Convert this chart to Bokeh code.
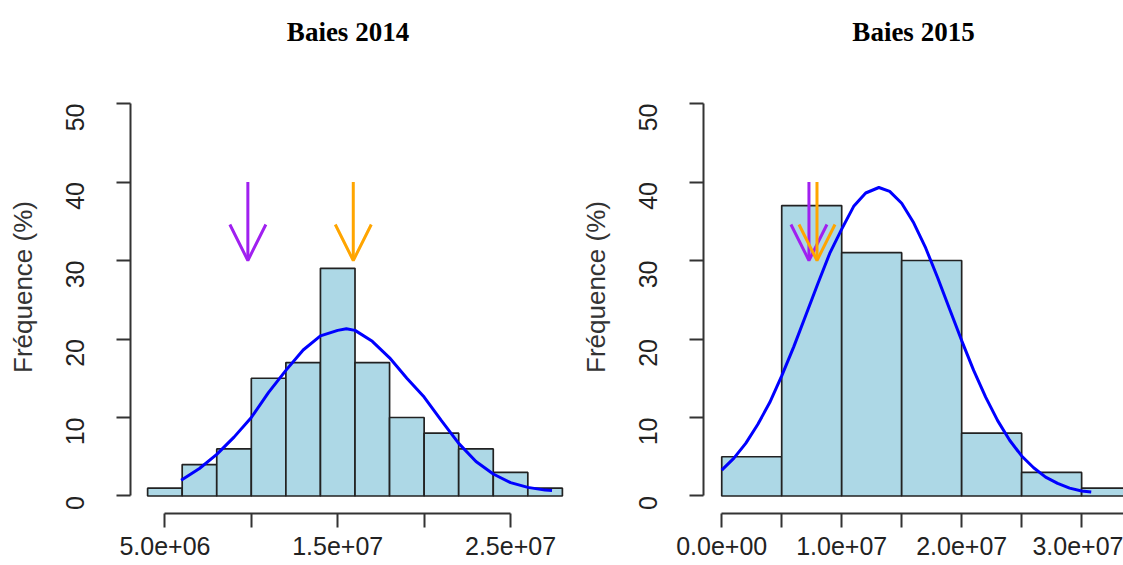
import math
from bokeh.plotting import figure
from bokeh.layouts import row
from bokeh.models import FixedTicker, Range1d, Arrow, OpenHead, Title
from bokeh.embed import file_html
from bokeh.resources import INLINE

# ---------------- data ----------------
titles = ["Baies 2014", "Baies 2015"]
y_label = "Fréquence (%)"
y_ticks = [0, 10, 20, 30, 40, 50]

# 2014 histogram
edges_2014 = [4e6, 6e6, 8e6, 10e6, 12e6, 14e6, 16e6, 18e6, 20e6, 22e6, 24e6, 26e6, 28e6]
freq_2014 = [1, 4, 6, 15, 17, 29, 17, 10, 8, 6, 3, 1]
curve_x_2014 = [5.94e6, 7e6, 8e6, 9e6, 10e6, 11e6, 12e6, 13e6, 14e6, 15e6, 15.5e6, 16e6, 17e6,
                18e6, 19e6, 20e6, 21e6, 22e6, 23e6, 24e6, 25e6, 26e6, 27e6, 27.4e6]
curve_y_2014 = [2.0, 3.5, 5.3, 7.5, 10.0, 13.2, 16.0, 18.6, 20.4, 21.1, 21.3, 21.1, 19.7,
                17.6, 15.0, 12.6, 9.6, 6.7, 4.4, 2.8, 1.7, 1.1, 0.75, 0.7]
arrow_x_2014 = [9.8e6, 15.9e6]
x_ticks_2014 = [5e6, 10e6, 15e6, 20e6, 25e6]
x_labels_2014 = ["5.0e+06", "", "1.5e+07", "", "2.5e+07"]

# 2015 histogram
edges_2015 = [0, 5e6, 10e6, 15e6, 20e6, 25e6, 30e6, 35e6]
freq_2015 = [5, 37, 31, 30, 8, 3, 1]
curve_x_2015 = [0, 1e6, 2e6, 3e6, 4e6, 5e6, 6e6, 7e6, 8e6, 9e6, 10e6, 11e6, 12e6, 13.1e6,
                14e6, 15e6, 16e6, 17e6, 18e6, 19e6, 20e6, 21e6, 22e6, 23e6, 24e6, 25e6,
                26e6, 27e6, 28e6, 29e6, 30e6, 30.8e6]
curve_y_2015 = [3.3, 4.8, 6.7, 9.1, 11.9, 15.3, 19.0, 23.0, 27.0, 30.9, 34.0, 36.9, 38.6, 39.3,
                38.8, 37.3, 34.8, 31.6, 27.8, 23.8, 19.8, 16.0, 12.6, 9.6, 7.1, 5.1,
                3.6, 2.4, 1.6, 1.0, 0.64, 0.5]
arrow_x_2015 = [7.27e6, 7.94e6]
x_ticks_2015 = [0, 5e6, 10e6, 15e6, 20e6, 25e6, 30e6, 35e6]
x_labels_2015 = ["0.0e+00", "", "1.0e+07", "", "2.0e+07", "", "3.0e+07", ""]

arrow_y = [40, 30]
arrow_colors = ["#A020F0", "#FFA500"]

# ---------------- styling ----------------
H = 565
Y_RANGE = (-2.23, 55.48)
AX_COL = "#333333"
TXT_COL = "#222222"


def make_panel(title, edges, freq, cx, cy, ax, xticks, xlabels, xrange, xbounds,
               width, border_left, title_offset):
    p = figure(width=width, height=H, output_backend="svg", toolbar_location=None,
               x_range=Range1d(*xrange), y_range=Range1d(*Y_RANGE),
               min_border_left=border_left, min_border_right=0,
               min_border_top=60, min_border_bottom=52)
    p.title = Title(text=title, align="center", offset=title_offset,
                    text_font="Liberation Serif", text_font_size="27px",
                    text_font_style="bold", text_color="black", standoff=27)
    p.outline_line_color = None
    p.xgrid.visible = False
    p.ygrid.visible = False
    p.background_fill_color = "white"
    p.border_fill_color = "white"

    p.quad(left=edges[:-1], right=edges[1:], top=freq, bottom=0,
           fill_color="#ADD8E6", line_color="#222222", line_width=1.7)
    p.line(cx, cy, line_color="#0000FF", line_width=3)

    for xv, col in zip(ax, arrow_colors):
        p.add_layout(Arrow(x_start=xv, y_start=arrow_y[0], x_end=xv, y_end=arrow_y[1],
                           line_color=col, line_width=3,
                           end=OpenHead(size=36, line_color=col, line_width=3)))

    # x axis
    xa = p.xaxis[0]
    xa.ticker = FixedTicker(ticks=xticks)
    xa.major_label_overrides = {t: l for t, l in zip(xticks, xlabels)}
    xa.bounds = xbounds
    xa.axis_line_color = AX_COL
    xa.axis_line_width = 2
    xa.major_tick_line_color = AX_COL
    xa.major_tick_line_width = 2
    xa.major_tick_out = 14
    xa.major_tick_in = 0
    xa.minor_tick_line_color = None
    xa.major_label_standoff = 9
    xa.major_label_text_font = "Liberation Sans"
    xa.major_label_text_font_size = "25px"
    xa.major_label_text_color = TXT_COL

    # y axis
    ya = p.yaxis[0]
    ya.ticker = FixedTicker(ticks=y_ticks)
    ya.bounds = (y_ticks[0], y_ticks[-1])
    ya.axis_line_color = AX_COL
    ya.axis_line_width = 2
    ya.major_tick_line_color = AX_COL
    ya.major_tick_line_width = 2
    ya.major_tick_out = 14
    ya.major_tick_in = 0
    ya.minor_tick_line_color = None
    ya.major_label_orientation = math.pi / 2
    ya.major_label_standoff = 41
    ya.major_label_text_font = "Liberation Sans"
    ya.major_label_text_font_size = "25px"
    ya.major_label_text_color = TXT_COL
    ya.axis_label = y_label
    ya.axis_label_text_font = "Liberation Sans"
    ya.axis_label_text_font_size = "26px"
    ya.axis_label_text_font_style = "normal"
    ya.axis_label_text_color = "#333333"
    ya.axis_label_standoff = 17
    return p


p1 = make_panel(titles[0], edges_2014, freq_2014, curve_x_2014, curve_y_2014, arrow_x_2014,
                x_ticks_2014, x_labels_2014, (3.009e6, 28.18e6),
                (x_ticks_2014[0], x_ticks_2014[-1]), 565, 130, 1)
p2 = make_panel(titles[1], edges_2015, freq_2015, curve_x_2015, curve_y_2015, arrow_x_2015,
                x_ticks_2015, x_labels_2015, (-1.52e6, 33.49e6),
                (x_ticks_2015[0], x_ticks_2015[-1]), 558, 138, 11)

layout = row(p1, p2)
open("out.html", "w").write(file_html(layout, INLINE))
